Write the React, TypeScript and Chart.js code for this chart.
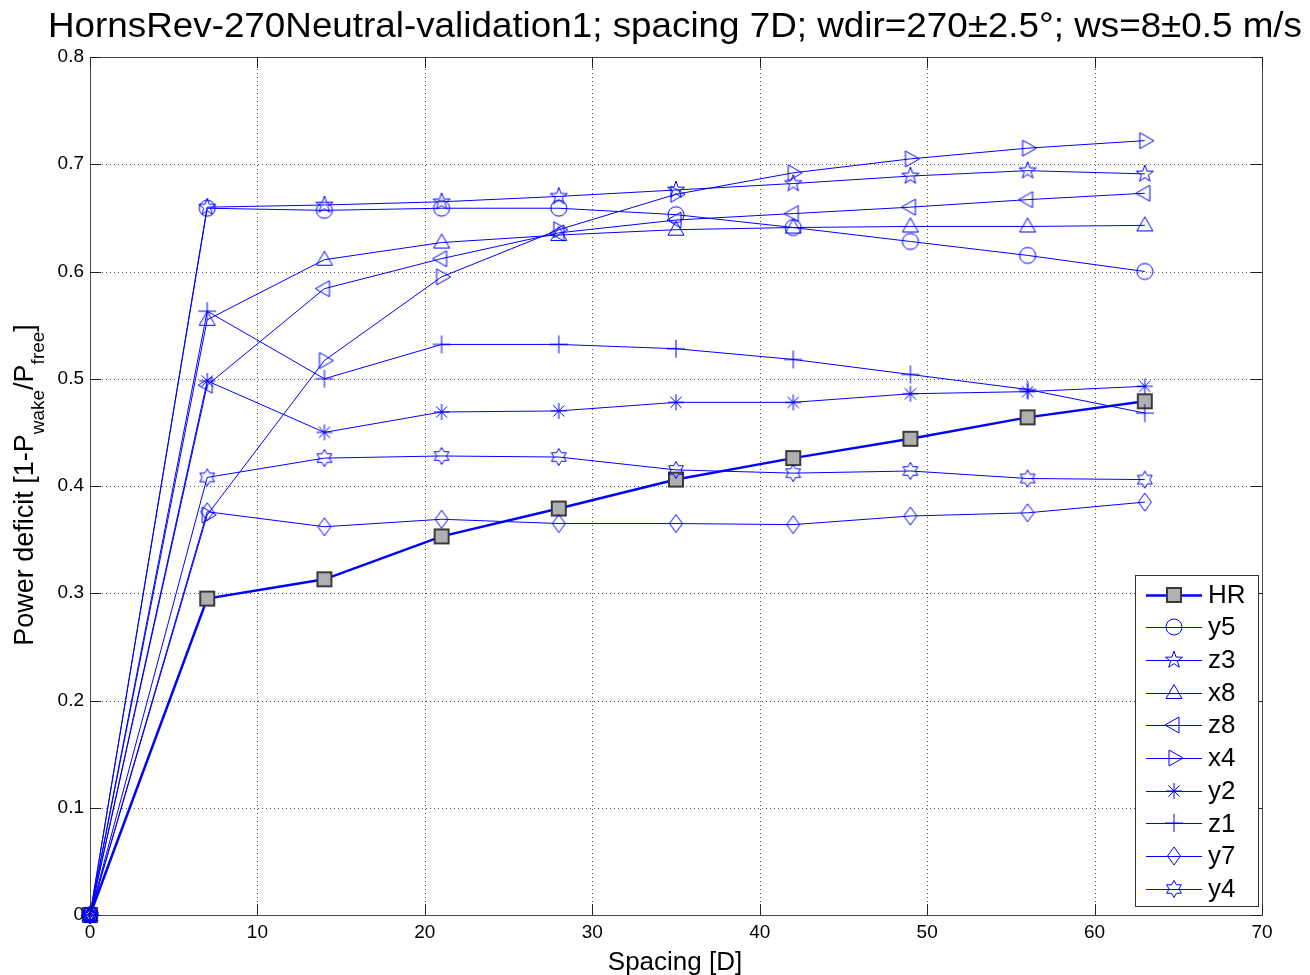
import React, { useEffect, useRef } from 'react';
import { Chart, registerables } from 'chart.js';
Chart.register(...registerables);

const FONT = '"Liberation Sans", Arial, sans-serif';

const spacing = [0, 7, 14, 21, 28, 35, 42, 49, 56, 63];
const hr = [0, 0.295, 0.313, 0.353, 0.379, 0.406, 0.426, 0.444, 0.464, 0.479];
const y5 = [0, 0.659, 0.657, 0.659, 0.659, 0.653, 0.641, 0.628, 0.615, 0.6];
const z3 = [0, 0.66, 0.662, 0.665, 0.67, 0.676, 0.682, 0.689, 0.694, 0.691];
const x8 = [0, 0.555, 0.611, 0.627, 0.634, 0.639, 0.641, 0.642, 0.642, 0.643];
const z8 = [0, 0.494, 0.584, 0.612, 0.636, 0.648, 0.654, 0.66, 0.667, 0.673];
const x4 = [0, 0.373, 0.517, 0.595, 0.639, 0.672, 0.692, 0.705, 0.715, 0.722];
const y2 = [0, 0.498, 0.45, 0.469, 0.47, 0.478, 0.478, 0.486, 0.488, 0.493];
const z1 = [0, 0.563, 0.5, 0.532, 0.532, 0.528, 0.518, 0.504, 0.49, 0.468];
const y7 = [0, 0.376, 0.362, 0.369, 0.365, 0.365, 0.364, 0.372, 0.375, 0.385];
const y4 = [0, 0.408, 0.426, 0.428, 0.427, 0.415, 0.412, 0.414, 0.407, 0.406];

const seriesNames = ['HR', 'y5', 'z3', 'x8', 'z8', 'x4', 'y2', 'z1', 'y7', 'y4'];
const seriesValues = [hr, y5, z3, x8, z8, x4, y2, z1, y7, y4];
const markerKinds = ['square', 'circle', 'pentagram', 'triUp', 'triLeft', 'triRight', 'asterisk', 'plus', 'diamond', 'hexagram'];

const xTicks = [0, 10, 20, 30, 40, 50, 60, 70];
const yTicks = [0, 0.1, 0.2, 0.3, 0.4, 0.5, 0.6, 0.7, 0.8];
const yTickLabels = ['0', '0.1', '0.2', '0.3', '0.4', '0.5', '0.6', '0.7', '0.8'];
const xTickLabels = ['0', '10', '20', '30', '40', '50', '60', '70'];

const titleText = 'HornsRev-270Neutral-validation1; spacing 7D; wdir=270\u00b12.5\u00b0; ws=8\u00b10.5 m/s';
const xTitle = 'Spacing [D]';

const BLUE = '#0000ff';

function makeMarker(kind: string): HTMLCanvasElement {
  const S = 26;
  const c = document.createElement('canvas');
  c.width = S;
  c.height = S;
  const g = c.getContext('2d')!;
  const cx = S / 2, cy = S / 2;
  g.strokeStyle = BLUE;
  g.lineWidth = 1;
  g.beginPath();
  if (kind === 'square') {
    g.fillStyle = '#b0b0b0';
    g.strokeStyle = '#3a3a3a';
    g.lineWidth = 2;
    g.rect(cx - 7, cy - 7, 14, 14);
    g.fill();
    g.stroke();
    return c;
  }
  if (kind === 'circle') {
    g.arc(cx, cy, 8, 0, Math.PI * 2);
  } else if (kind === 'pentagram' || kind === 'hexagram') {
    const n = kind === 'pentagram' ? 5 : 6;
    const R = kind === 'pentagram' ? 9 : 8.5;
    const r = kind === 'pentagram' ? 3.6 : 8.5 / Math.sqrt(3);
    for (let i = 0; i < 2 * n; i++) {
      const a = -Math.PI / 2 + (i * Math.PI) / n;
      const rr = i % 2 === 0 ? R : r;
      const px = cx + rr * Math.cos(a);
      const py = cy + rr * Math.sin(a);
      if (i === 0) g.moveTo(px, py);
      else g.lineTo(px, py);
    }
    g.closePath();
  } else if (kind === 'triUp') {
    g.moveTo(cx, cy - 8.5);
    g.lineTo(cx + 8, cy + 5.5);
    g.lineTo(cx - 8, cy + 5.5);
    g.closePath();
  } else if (kind === 'triLeft') {
    g.moveTo(cx - 9, cy);
    g.lineTo(cx + 5, cy - 8);
    g.lineTo(cx + 5, cy + 8);
    g.closePath();
  } else if (kind === 'triRight') {
    g.moveTo(cx + 9, cy);
    g.lineTo(cx - 5, cy - 8);
    g.lineTo(cx - 5, cy + 8);
    g.closePath();
  } else if (kind === 'asterisk') {
    g.moveTo(cx, cy - 8); g.lineTo(cx, cy + 8);
    g.moveTo(cx - 8, cy); g.lineTo(cx + 8, cy);
    g.moveTo(cx - 5.6, cy - 5.6); g.lineTo(cx + 5.6, cy + 5.6);
    g.moveTo(cx - 5.6, cy + 5.6); g.lineTo(cx + 5.6, cy - 5.6);
  } else if (kind === 'plus') {
    g.moveTo(cx, cy - 9); g.lineTo(cx, cy + 9);
    g.moveTo(cx - 9, cy); g.lineTo(cx + 9, cy);
  } else if (kind === 'diamond') {
    g.moveTo(cx, cy - 9);
    g.lineTo(cx + 6.5, cy);
    g.lineTo(cx, cy + 9);
    g.lineTo(cx - 6.5, cy);
    g.closePath();
  }
  g.stroke();
  return c;
}

export default function App() {
  const ref = useRef<HTMLCanvasElement>(null);

  useEffect(() => {
    if (!ref.current) return;
    const markers = markerKinds.map(makeMarker);

    const datasets = seriesNames.map((name, i) => ({
      label: name,
      data: spacing.map((x, j) => ({ x, y: seriesValues[i][j] })),
      borderColor: BLUE,
      backgroundColor: BLUE,
      borderWidth: i === 0 ? 2.5 : 1,
      pointStyle: markers[i] as any,
      pointRadius: 8,
      pointHoverRadius: 8,
      tension: 0,
      clip: false as any,
      order: i === 0 ? 100 : 50 - i,
    }));

    const custom = {
      id: 'custom',
      beforeDatasetsDraw(chart: any) {
        const { ctx, chartArea: a, scales } = chart;
        ctx.save();
        ctx.strokeStyle = '#555555';
        ctx.lineWidth = 1;
        ctx.setLineDash([1, 3]);
        for (const t of xTicks) {
          if (t === 0 || t === 70) continue;
          const px = Math.round(scales.x.getPixelForValue(t)) + 0.5;
          ctx.beginPath();
          ctx.moveTo(px, a.top);
          ctx.lineTo(px, a.bottom);
          ctx.stroke();
        }
        for (const t of yTicks) {
          if (t === 0 || t === 0.8) continue;
          const py = Math.round(scales.y.getPixelForValue(t)) + 0.5;
          ctx.beginPath();
          ctx.moveTo(a.left, py);
          ctx.lineTo(a.right, py);
          ctx.stroke();
        }
        ctx.restore();
      },
      afterDatasetsDraw(chart: any) {
        const { ctx, chartArea: a, scales } = chart;
        ctx.save();
        // axes box
        ctx.strokeStyle = '#4a4a4a';
        ctx.lineWidth = 1;
        ctx.setLineDash([]);
        ctx.strokeRect(Math.round(a.left) + 0.5, Math.round(a.top) + 0.5, Math.round(a.right - a.left), Math.round(a.bottom - a.top));
        // ticks
        ctx.strokeStyle = '#222222';
        const TL = 11;
        for (const t of xTicks) {
          const px = Math.round(scales.x.getPixelForValue(t)) + 0.5;
          ctx.beginPath();
          ctx.moveTo(px, a.bottom);
          ctx.lineTo(px, a.bottom - TL);
          ctx.moveTo(px, a.top);
          ctx.lineTo(px, a.top + TL);
          ctx.stroke();
        }
        for (const t of yTicks) {
          const py = Math.round(scales.y.getPixelForValue(t)) + 0.5;
          ctx.beginPath();
          ctx.moveTo(a.left, py);
          ctx.lineTo(a.left + TL, py);
          ctx.moveTo(a.right, py);
          ctx.lineTo(a.right - TL, py);
          ctx.stroke();
        }

        // legend
        const lx = 1135, ly = 575, lw = 123, lh = 331;
        ctx.fillStyle = '#ffffff';
        ctx.fillRect(lx, ly, lw, lh);
        ctx.strokeStyle = '#333333';
        ctx.strokeRect(lx + 0.5, ly + 0.5, lw, lh);
        ctx.font = `26px ${FONT}`;
        ctx.textBaseline = 'middle';
        ctx.textAlign = 'left';
        seriesNames.forEach((name, i) => {
          const cy = 594.5 + i * 32.7;
          const yy = Math.round(cy) + 0.5;
          ctx.strokeStyle = BLUE;
          ctx.lineWidth = i === 0 ? 2.5 : 1;
          ctx.beginPath();
          ctx.moveTo(1146, yy);
          ctx.lineTo(1202, yy);
          ctx.stroke();
          const m = markers[i];
          ctx.drawImage(m, 1174 - m.width / 2, yy - 0.5 - m.height / 2);
          ctx.fillStyle = '#000';
          ctx.fillText(name, 1208, cy + 1);
        });

        // title (fit to the reference width)
        ctx.fillStyle = '#000';
        ctx.textBaseline = 'alphabetic';
        ctx.textAlign = 'left';
        ctx.font = `35px ${FONT}`;
        const tw = ctx.measureText(titleText).width;
        const targetW = 1254;
        ctx.save();
        ctx.translate(48, 37);
        ctx.scale(targetW / tw, 1);
        ctx.fillText(titleText, 0, 0);
        ctx.restore();

        // x title
        ctx.textAlign = 'center';
        ctx.font = `26px ${FONT}`;
        ctx.fillText(xTitle, 675, 970);

        // y title with subscripts
        const parts: [string, boolean][] = [
          ['Power deficit [1-P', false],
          ['wake', true],
          ['/P', false],
          ['free', true],
          [']', false],
        ];
        const big = `27px ${FONT}`;
        const small = `19px ${FONT}`;
        let total = 0;
        for (const [s, sub] of parts) {
          ctx.font = sub ? small : big;
          total += ctx.measureText(s).width;
        }
        ctx.translate(33, 485);
        ctx.rotate(-Math.PI / 2);
        ctx.textAlign = 'left';
        let x0 = -total / 2;
        for (const [s, sub] of parts) {
          ctx.font = sub ? small : big;
          ctx.fillText(s, x0, sub ? 11 : 0);
          x0 += ctx.measureText(s).width;
        }
        ctx.restore();
      },
    };

    const chart = new Chart(ref.current, {
      type: 'line',
      data: { datasets: datasets as any },
      options: {
        animation: false,
        responsive: false,
        events: [],
        layout: { padding: { left: 0, top: 57, right: 48, bottom: 0 } },
        plugins: { legend: { display: false }, tooltip: { enabled: false }, title: { display: false } },
        scales: {
          x: {
            type: 'linear',
            min: 0,
            max: 70,
            grid: { display: false, drawTicks: false },
            border: { display: false },
            afterFit: (s: any) => { s.height = 60; },
            afterBuildTicks: (s: any) => { s.ticks = xTicks.map((v) => ({ value: v })); },
            ticks: {
              color: '#000',
              padding: 6,
              maxRotation: 0,
              autoSkip: false,
              font: { family: FONT, size: 19 },
              callback: (v: any, i: number) => xTickLabels[i],
            },
          },
          y: {
            type: 'linear',
            min: 0,
            max: 0.8,
            grid: { display: false, drawTicks: false },
            border: { display: false },
            afterFit: (s: any) => { s.width = 90; },
            afterBuildTicks: (s: any) => { s.ticks = yTicks.map((v) => ({ value: v })); },
            ticks: {
              color: '#000',
              padding: 6,
              autoSkip: false,
              font: { family: FONT, size: 19 },
              callback: (v: any, i: number) => yTickLabels[i],
            },
          },
        },
      },
      plugins: [custom],
    });
    return () => chart.destroy();
  }, []);

  return (
    <div style={{ position: 'absolute', left: 0, top: 0, width: 1310, height: 975, background: '#fff' }}>
      <canvas ref={ref} width={1310} height={975} style={{ width: 1310, height: 975 }} />
    </div>
  );
}
